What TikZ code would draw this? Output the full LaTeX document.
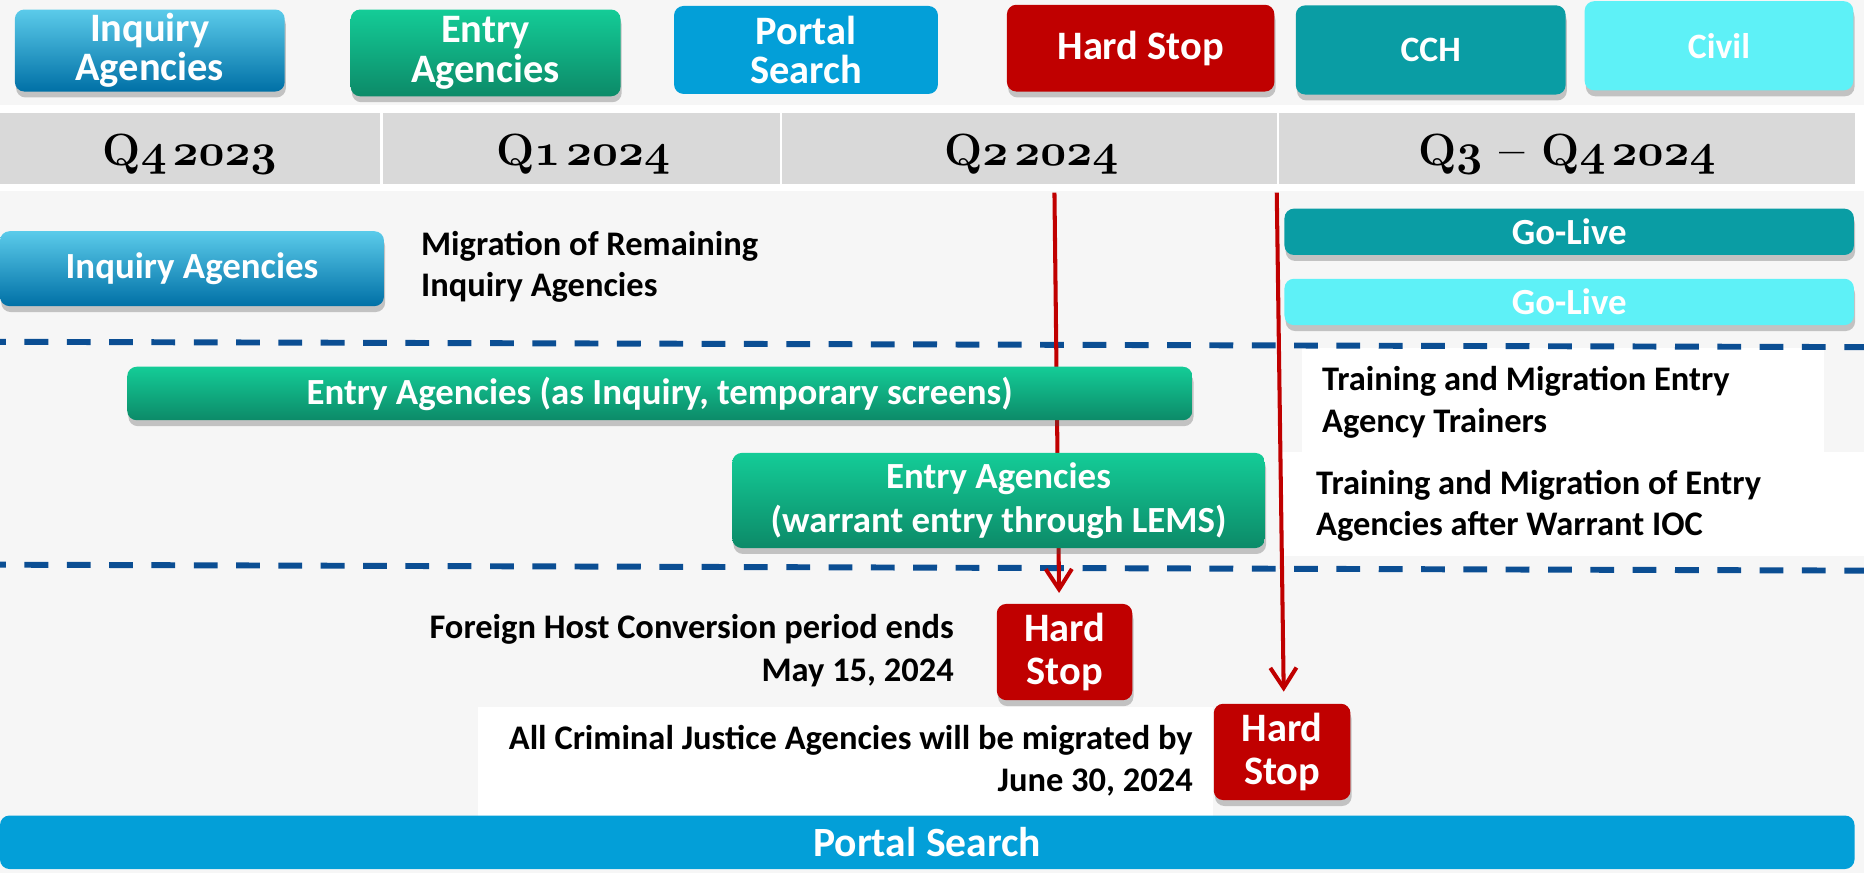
\documentclass[tikz,border=0pt]{standalone}
\usepackage{fix-cm}
\usepackage{fontspec}
\usepackage{graphicx}
\usetikzlibrary{arrows.meta,shadows}
\newfontfamily\calibri{Carlito}
\newcommand\qnum[1]{{\fontencoding{OML}\fontfamily{cmm}\fontseries{b}\fontshape{it}\selectfont#1}}
\definecolor{inqlight}{HTML}{5BCBEA}
\definecolor{inqdark}{HTML}{0070A6}
\definecolor{entlight}{HTML}{14CC97}
\definecolor{entdark}{HTML}{0C8A68}
\definecolor{portalblue}{HTML}{039FD8}
\definecolor{hardred}{HTML}{C00000}
\definecolor{cchteal}{HTML}{0A9DA4}
\definecolor{civilcyan}{HTML}{5EF1F7}
\definecolor{sepblue}{HTML}{0B4E93}
\definecolor{bandgrey}{HTML}{D9D9D9}
\definecolor{bggrey}{HTML}{F6F6F6}
\tikzset{
 >={Straight Barb[length=17pt,width=22pt]},
 tag/.style={rounded corners=8pt, inner sep=0pt, align=center, text=white},
 shadowed/.style={drop shadow={opacity=0.3, shadow xshift=1pt, shadow yshift=-5pt, fill=black!70}},
 fsz/.style 2 args={font=\calibri\bfseries\fontsize{#1}{#2}\selectfont},
 inquiry/.style={tag, shadowed, top color=inqlight, bottom color=inqdark},
 entry/.style={tag, shadowed, top color=entlight, bottom color=entdark},
 portal/.style={tag, fill=portalblue},
 hardstop/.style={tag, shadowed, fill=hardred},
 cch/.style={tag, shadowed, fill=cchteal},
 civil/.style={tag, shadowed, fill=civilcyan},
 note/.style={inner sep=0pt, fsz={29}{35}},
 quarter/.style={inner sep=0pt, anchor=base, font=\bfseries\fontsize{38}{38}\selectfont},
 stopline/.style={draw=hardred, line width=3.4pt},
 sepline/.style={draw=sepblue, line width=5pt, dash pattern=on 20pt off 15.6pt, dash phase=15pt}
}

\begin{document}
\begin{tikzpicture}[x=1pt,y=-1pt]
\useasboundingbox (0,0) rectangle (1568,734);
\fill[bggrey] (0,0) rectangle (1568,734);
\fill[white] (0,88) rectangle (1568,161);
\fill[white] (1095,293) rectangle (1534,380);
\fill[white] (1078,380) rectangle (1568,468);
\fill[white] (402,595) rectangle (1020,686);

% quarters
\fill[bandgrey] (0,95) rectangle (1560,155);
\foreach \x in {321,657,1075} \draw[white,line width=2pt] (\x,95) -- (\x,155);
\path (159.5,139) node[name=q4y23, quarter] {Q\qnum{4}\hspace{5pt}\qnum{2023}};
\path (490.5,139) node[name=q1y24, quarter] {Q\qnum{1}\hspace{5pt}\qnum{2024}};
\path (867.5,139) node[name=q2y24, quarter] {Q\qnum{2}\hspace{5pt}\qnum{2024}};
\path (1318,139) node[name=q34y24, quarter] {Q\qnum{3} -- Q\qnum{4}\hspace{5pt}\qnum{2024}};

% legend
\path (126,42.5) node[name=hinq, inquiry, minimum width=227pt, minimum height=69pt, fsz={34}{33}] {Inquiry\\Agencies};
\path (408.5,44.5) node[name=hentry, entry, minimum width=227pt, minimum height=73pt, fsz={34}{33}] {Entry\\Agencies};
\path (678,42) node[name=hportal, portal, minimum width=222pt, minimum height=74pt, fsz={34}{33}] {Portal\\Search};
\path (959.5,40.5) node[name=hhard, hardstop, minimum width=225pt, minimum height=73pt, fsz={34}{34}] {Hard Stop};
\path (1203.5,42) node[name=hcch, cch, minimum width=227pt, minimum height=75pt, fsz={30}{30}] {\raisebox{-3pt}{CCH}};
\path (1446,38.5) node[name=hcivil, civil, minimum width=226pt, minimum height=75pt, fsz={30}{30}] {Civil};

\draw[sepline] (0,287.5) -- (1568,292);
\draw[sepline] (0,475) -- (1568,480);

\path (895.5,548.5) node[name=hs1, hardstop, minimum width=114pt, minimum height=81pt, fsz={34}{36}] {Hard\\Stop};
\path (1078.5,632.5) node[name=hs2, hardstop, minimum width=115pt, minimum height=81pt, fsz={34}{36}] {Hard\\Stop};

\coordinate (a1top) at (887,162);
\coordinate (a2top) at (1074,162);
\path[->] (a1top) edge[stopline,shorten >=9pt] ([xshift=-4.5pt]hs1.north);
\path[->] (a2top) edge[stopline,shorten >=10pt] ([xshift=1.5pt]hs2.north);

\path (161.5,226) node[name=rinq, inquiry, minimum width=323pt, minimum height=63pt, fsz={31}{31}] {Inquiry Agencies};
\path (354,224.5) node[name=migr, note, anchor=west, align=left, fsz={29}{34}] {Migration of Remaining\\Inquiry Agencies};

\path (555,331) node[name=rtemp, entry, minimum width=896pt, minimum height=45pt, fsz={31}{31}] {Entry Agencies (as Inquiry, temporary screens)};
\path (840,421) node[name=rlems, entry, minimum width=448pt, minimum height=80pt, fsz={31}{37}] {Entry Agencies\\(warrant entry through LEMS)};

\path (1320,195) node[name=gocch, cch, minimum width=479pt, minimum height=39pt, fsz={31}{31}] {Go-Live};
\path (1320,254) node[name=gocivil, civil, minimum width=479pt, minimum height=39pt, fsz={31}{31}] {Go-Live};

\path (1112,338.5) node[name=train1, note, anchor=west, align=left] {Training and Migration Entry\\Agency Trainers};
\path (1107,425.5) node[name=train2, note, anchor=west, align=left] {Training and Migration of Entry\\Agencies after Warrant IOC};

\path (802.5,547) node[name=foreign, note, anchor=east, align=right, fsz={29}{36}] {Foreign Host Conversion period ends\\May 15, 2024};
\path (1003.5,640) node[name=cja, note, anchor=east, align=right, fsz={29}{35}] {All Criminal Justice Agencies will be migrated by\\June 30, 2024};

\path (780,708.5) node[name=rportal, portal, minimum width=1560pt, minimum height=45pt, fsz={35}{35}] {Portal Search};
\end{tikzpicture}
\end{document}
